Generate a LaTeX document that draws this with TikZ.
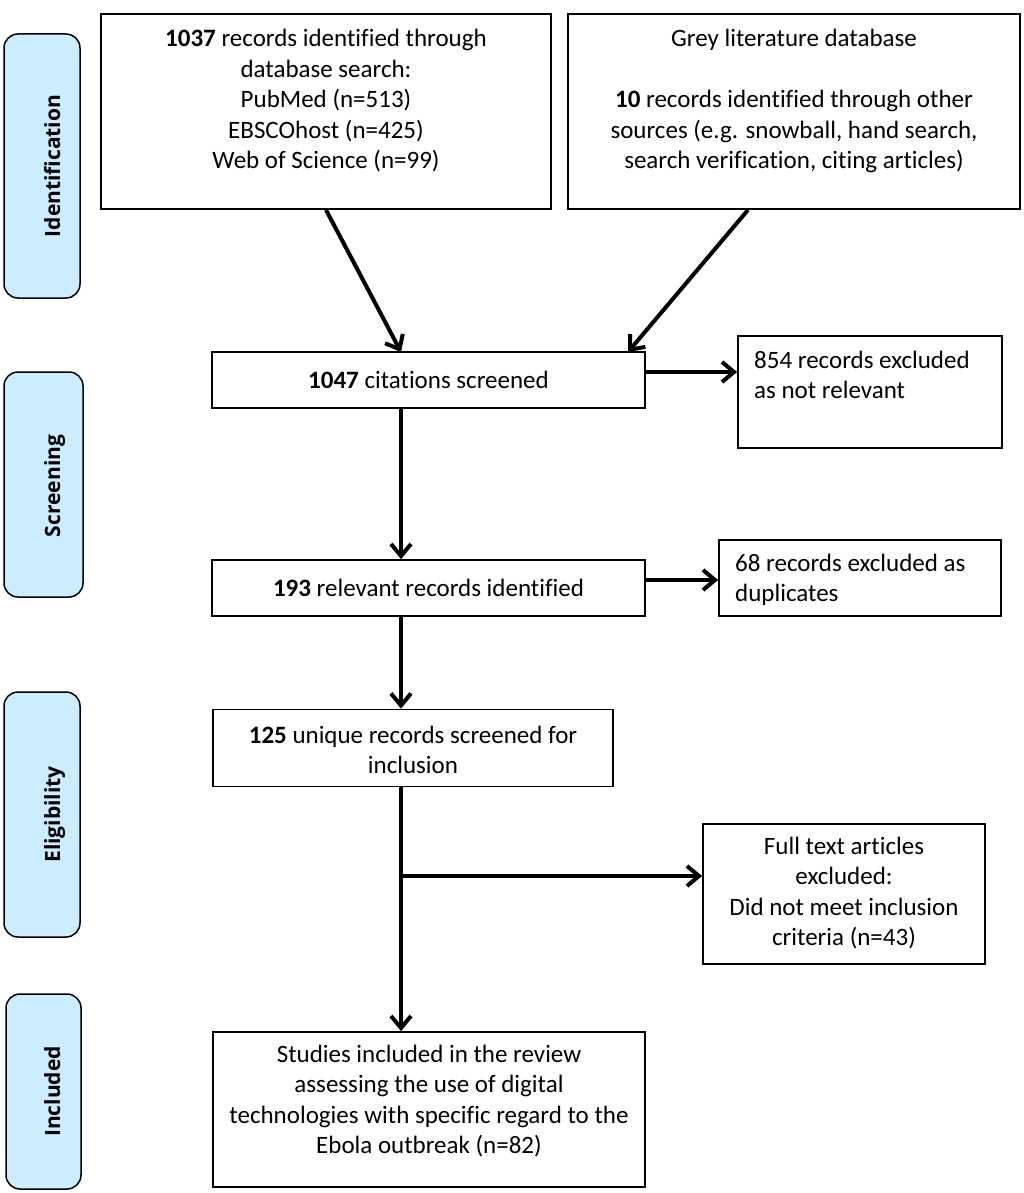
\documentclass[tikz,border=0pt]{standalone}
\usepackage{fontspec}
\setmainfont{Carlito}[Ligatures=NoCommon]
\newfontfamily\sidefont{Open Sans}
\usetikzlibrary{arrows.meta}
\definecolor{sideblue}{RGB}{204,236,255}
\begin{document}
\begin{tikzpicture}[x=1pt,y=-1pt,
  box/.style={draw=black,line width=1.8pt,inner sep=0pt,fill=white},
  side/.style={draw=black,line width=1.5pt,rounded corners=14pt,fill=sideblue,inner sep=0pt},
  sidetxt/.style={rotate=90,anchor=base,font=\sidefont\bfseries\fontsize{21}{25}\selectfont,inner sep=0pt},
  txt/.style={align=center,inner sep=0pt,font=\fontsize{25}{30.5}\selectfont},
  ltxt/.style={align=left,inner sep=0pt,anchor=west,font=\fontsize{25}{30.5}\selectfont},
  arr/.style={line width=4pt,-{Straight Barb[length=12pt,width=20pt]}},
  ln/.style={line width=4pt}]
\useasboundingbox (0,0) rectangle (1024,1193);
% side labels
\node[side,minimum width=76pt,minimum height=264pt] (s1) at (42,166) {};
\node[sidetxt] (s1t) at (60,166) {Identification};
\node[side,minimum width=79pt,minimum height=225pt] (s2) at (43.5,484.5) {};
\node[sidetxt] (s2t) at (60,486) {Screening};
\node[side,minimum width=76pt,minimum height=245pt] (s3) at (42,814.5) {};
\node[sidetxt] (s3t) at (60,814.5) {Eligibility};
\node[side,minimum width=75pt,minimum height=195pt] (s4) at (43.5,1091.5) {};
\node[sidetxt] (s4t) at (60,1091.5) {Included};
% boxes
\node[box,minimum width=450pt,minimum height=195pt] (A) at (326,111.5) {};
\node[txt] (At) at (326,101) {\textbf{1037} records identified through\\database search:\\PubMed (n=513)\\EBSCOhost (n=425)\\Web of Science (n=99)};
\node[box,minimum width=452pt,minimum height=195pt] (B) at (794,111.5) {};
\node[txt] (Bt) at (794,101) {Grey literature database\\[30.5pt]\textbf{10} records identified through other\\sources (e.g. snowball, hand search,\\search verification, citing articles)};
\node[box,minimum width=433pt,minimum height=56pt] (C) at (428.5,380) {};
\node[txt] (Ct) at (428.5,380) {\textbf{1047} citations screened};
\node[box,minimum width=264pt,minimum height=112pt] (D) at (870,392) {};
\node[ltxt] (Dt) at (754,375) {854 records excluded\\as not relevant};
\node[box,minimum width=433pt,minimum height=56pt] (E) at (428.5,588) {};
\node[txt] (Et) at (428.5,588) {\textbf{193} relevant records identified};
\node[box,minimum width=282pt,minimum height=76pt] (F) at (860,578) {};
\node[ltxt] (Ft) at (735,580) {68 records excluded as\\duplicates};
\node[box,minimum width=400pt,minimum height=77pt] (G) at (413,748) {};
\node[txt] (Gt) at (413,750) {\textbf{125} unique records screened for\\inclusion};
\node[box,minimum width=282pt,minimum height=140pt] (H) at (844,894) {};
\node[txt] (Ht) at (844,893) {Full text articles\\excluded:\\Did not meet inclusion\\criteria (n=43)};
\node[box,minimum width=432pt,minimum height=155pt] (I) at (429,1109.5) {};
\node[txt] (It) at (429,1101) {Studies included in the review\\assessing the use of digital\\technologies with specific regard to the\\Ebola outbreak (n=82)};
% connectors
\coordinate (cin1) at (401,352);
\coordinate (cin2) at (628,352);
\draw[arr] (A.south) -- (cin1);
\draw[arr] ([xshift=-46pt]B.south) -- (cin2);
\draw[arr] (C.east |- 0,372) -- (D.west |- 0,372);
\draw[arr] (C.south -| 401,0) -- (E.north -| 401,0);
\draw[arr] (E.east |- 0,580) -- (F.west |- 0,580);
\draw[arr] (E.south -| 401,0) -- (G.north -| 401,0);
\coordinate (br) at (401,876);
\draw[ln] (G.south -| 401,0) -- (br);
\draw[arr] (br) -- (H.west |- br);
\draw[arr] (br) -- (I.north -| br);
\end{tikzpicture}
\end{document}
